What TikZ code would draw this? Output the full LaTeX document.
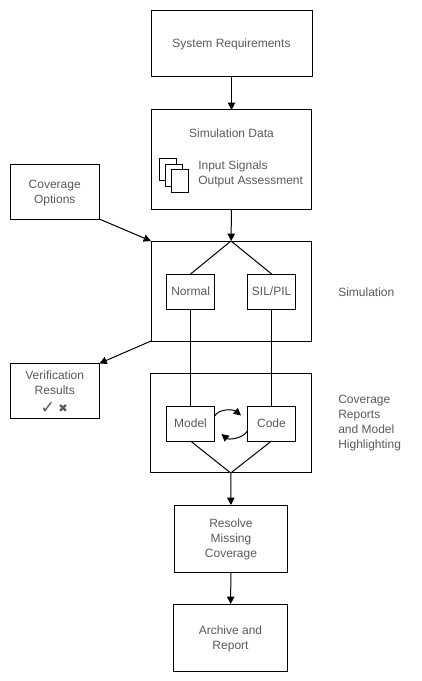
\documentclass[tikz,border=0pt]{standalone}
\usepackage{fontspec}
\setmainfont{Liberation Sans}
\newfontfamily\symfont{DejaVu Sans}
\usetikzlibrary{arrows.meta, positioning}
\definecolor{gristexto}{HTML}{5A5A5A}
\tikzset{
  rotulo/.style={font=\fontsize{9}{11.25}\selectfont, text=gristexto, align=center, inner sep=0pt},
  mainbox/.style={rectangle, draw=black, line width=0.75pt, outer sep=0pt, minimum width=120pt, minimum height=75pt, rotulo},
  subbox/.style={rectangle, draw=black, fill=white, line width=0.75pt, outer sep=0pt, minimum width=36pt, minimum height=26.25pt, rotulo},
  sidebox/.style={rectangle, draw=black, line width=0.75pt, outer sep=0pt, minimum width=67pt, minimum height=41pt, rotulo, text depth=0pt},
  stepbox/.style={rectangle, draw=black, line width=0.75pt, outer sep=0pt, minimum width=85pt, minimum height=50.25pt, rotulo, text depth=0pt},
  docbox/.style={rectangle, draw=black, fill=white, line width=0.75pt, outer sep=0pt, minimum width=13pt, minimum height=17pt},
  arrow/.style={line width=0.75pt, -{Triangle[length=5.5pt,width=5.5pt]}, color=black},
  linea/.style={line width=0.75pt, color=black}
}
\begin{document}
\begin{tikzpicture}[x=0.75pt, y=-0.75pt]
  \useasboundingbox (0,0) rectangle (421,681);
  \node (reqs) [mainbox, minimum width=120.75pt, minimum height=49.5pt] at (231.5,44) {System Requirements};
  \node (simdata) [mainbox, minimum height=74.25pt] at (231.5,159.5) {};
  \node (simdatatxt) [rotulo] at (231.5,133) {Simulation Data};
  \node (doca) [docbox] at (167.7,169.5) {};
  \node (docb) [docbox] at (174,175.5) {};
  \node (docc) [docbox] at (180,181) {};
  \node (signals) [rotulo, align=left, anchor=west] at (198,174) {Input Signals\\[0.2pt]Output Assessment};
  \node (options) [sidebox] at (54.75,191.75) {Coverage\\Options};
  \node (sim) [mainbox] at (231,291) {};
  \node (normal) [subbox] at (190.6,291.5) {Normal};
  \node (silpil) [subbox] at (271.6,291.5) {SIL/PIL};
  \node (simtxt) [rotulo, anchor=west] at (338,292) {Simulation};
  \node (results) [sidebox] at (54.75,390.75) {};
  \node (resultstxt) [rotulo] at (54.75,383) {Verification\\Results};
  \node (check) [rotulo, font=\symfont\fontsize{13}{13}\selectfont] at (48,408.5) {✓};
  \node (cross) [rotulo, font=\symfont\fontsize{8.5}{13}\selectfont] at (63,409) {✖};
  \node (cover) [mainbox, minimum width=120.4pt, minimum height=74.6pt] at (230.75,423.25) {};
  \node (model) [subbox] at (190.5,423.5) {Model};
  \node (code) [subbox] at (271.5,423.5) {Code};
  \node (covertxt) [rotulo, align=left, anchor=west] at (338,423.5) {Coverage\\Reports\\and Model\\Highlighting};
  \node (resolve) [stepbox] at (231,538.5) {Resolve\\Missing\\Coverage};
  \node (archive) [stepbox] at (230.5,637.5) {Archive and\\Report};
  \coordinate (loopa) at (241,415.5);
  \coordinate (loopb) at (221.5,434);
  \draw [arrow] (reqs) -- (simdata);
  \draw [arrow] (simdata) -- (sim);
  \draw [arrow] (options.south east) -- (sim.north west);
  \draw [arrow] (sim.south west) -- (results.north east);
  \draw [linea] (sim.north) -- (normal.north);
  \draw [linea] (sim.north) -- (silpil.north);
  \draw [linea] (normal.south) -- (normal.south |- model.north);
  \draw [linea] (silpil.south) -- (silpil.south |- code.north);
  \draw [linea] (model.south) -- (cover.south);
  \draw [linea] (code.south) -- (cover.south);
  \draw [arrow] (cover.south) -- (resolve);
  \draw [arrow] (resolve) -- (archive);
  \draw [arrow] (model.17) to[out=60, in=140, looseness=0.9] (loopa);
  \draw [arrow] (code.197) to[out=240, in=320, looseness=0.9] (loopb);
\end{tikzpicture}
\end{document}
